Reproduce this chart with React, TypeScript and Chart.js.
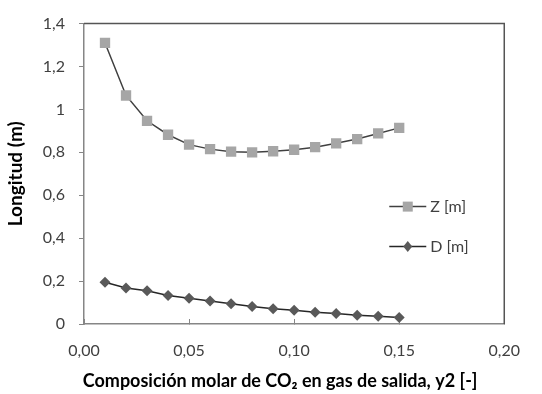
import React, { useEffect, useRef } from "react";
import { Chart, registerables } from "chart.js";

Chart.register(...registerables);

const xValues = [0.01, 0.02, 0.03, 0.04, 0.05, 0.06, 0.07, 0.08, 0.09, 0.10, 0.11, 0.12, 0.13, 0.14, 0.15];
const zValues = [1.31, 1.065, 0.947, 0.882, 0.836, 0.815, 0.803, 0.8, 0.805, 0.812, 0.824, 0.842, 0.862, 0.888, 0.914];
const dValues = [0.195, 0.168, 0.155, 0.133, 0.12, 0.107, 0.094, 0.082, 0.071, 0.064, 0.055, 0.049, 0.041, 0.036, 0.03];
const xTickValues = [0, 0.05, 0.1, 0.15, 0.2];
const seriesNames = ["Z [m]", "D [m]"];
const xTitle = "Composición molar de CO₂ en gas de salida, y2 [-]";
const yTitle = "Longitud (m)";

const FONT = "Lato, 'Open Sans', sans-serif";

const decorPlugin = {
  id: "decor",
  afterDraw(chart: any) {
    const ctx = chart.ctx;
    const area = chart.chartArea;
    ctx.save();
    ctx.strokeStyle = "#555555";
    ctx.lineWidth = 1.5;
    ctx.beginPath();
    ctx.moveTo(area.left, area.top);
    ctx.lineTo(area.right, area.top);
    ctx.lineTo(area.right, area.bottom);
    ctx.stroke();
    ctx.restore();

    // x axis title (slightly left of the plot centre, as in the original)
    ctx.save();
    ctx.fillStyle = "#000000";
    ctx.font = `bold 18px ${FONT}`;
    ctx.textAlign = "center";
    ctx.textBaseline = "middle";
    ctx.fillText(xTitle, (area.left + area.right) / 2 - 14, chart.height - 13);
    ctx.restore();

    const lx0 = area.right - 115;
    const lx1 = area.right - 78;
    const tx = area.right - 74;
    const rows = [area.top + 183, area.top + 223];
    chart.data.datasets.forEach((ds: any, i: number) => {
      const y = rows[i];
      ctx.save();
      ctx.strokeStyle = ds.borderColor;
      ctx.lineWidth = 1.5;
      ctx.beginPath();
      ctx.moveTo(lx0, y);
      ctx.lineTo(lx1, y);
      ctx.stroke();
      const mx = (lx0 + lx1) / 2;
      ctx.fillStyle = ds.pointBackgroundColor;
      ctx.beginPath();
      if (ds.pointStyle === "rect") {
        ctx.rect(mx - 5, y - 5, 10, 10);
      } else {
        ctx.moveTo(mx, y - 5.5);
        ctx.lineTo(mx + 4.5, y);
        ctx.lineTo(mx, y + 5.5);
        ctx.lineTo(mx - 4.5, y);
        ctx.closePath();
      }
      ctx.fill();
      ctx.fillStyle = "#404040";
      ctx.font = `16px ${FONT}`;
      ctx.textBaseline = "middle";
      ctx.textAlign = "left";
      ctx.fillText(ds.label, tx, y);
      ctx.restore();
    });
  },
};

export default function App() {
  const ref = useRef<HTMLCanvasElement | null>(null);
  useEffect(() => {
    document.body.style.margin = "0";
    const canvas = ref.current;
    if (!canvas) return;
    const chart = new Chart(canvas, {
      type: "line",
      data: {
        datasets: [
          {
            label: seriesNames[0],
            data: xValues.map((x, i) => ({ x, y: zValues[i] })),
            borderColor: "#404040",
            borderWidth: 1.5,
            pointStyle: "rect",
            pointRadius: 7.3,
            pointBackgroundColor: "#A6A6A6",
            pointBorderColor: "#A6A6A6",
            pointBorderWidth: 0,
            tension: 0,
          },
          {
            label: seriesNames[1],
            data: xValues.map((x, i) => ({ x, y: dValues[i] })),
            borderColor: "#262626",
            borderWidth: 1.5,
            pointStyle: "rectRot",
            pointRadius: 5.5,
            pointBackgroundColor: "#595959",
            pointBorderColor: "#595959",
            pointBorderWidth: 0,
            tension: 0,
          },
        ],
      },
      options: {
        animation: false,
        responsive: false,
        layout: { padding: { top: 19, right: 19, left: 0, bottom: 0 } },
        plugins: { legend: { display: false }, tooltip: { enabled: false } },
        scales: {
          x: {
            type: "linear",
            min: 0,
            max: 0.2,
            afterFit: (s: any) => {
              s.height = 70;
            },
            afterBuildTicks: (s: any) => {
              s.ticks = xTickValues.map((v) => ({ value: v }));
            },
            ticks: {
              padding: 22,
              color: "#404040",
              font: { family: FONT, size: 16 },
              maxRotation: 0,
              callback: (v: any) => Number(v).toFixed(2).replace(".", ","),
            },
            grid: { drawOnChartArea: false, tickLength: -5, color: "#868686" },
            border: { color: "#868686", width: 1.5 },
            title: { display: false, text: xTitle },
          },
          y: {
            min: 0,
            max: 1.4,
            afterFit: (s: any) => {
              s.width = 84;
            },
            ticks: {
              stepSize: 0.2,
              padding: 14,
              color: "#404040",
              font: { family: FONT, size: 16 },
              callback: (v: any) => String(Math.round(Number(v) * 10) / 10).replace(".", ","),
            },
            grid: { drawOnChartArea: false, tickLength: 5, color: "#868686" },
            border: { color: "#868686", width: 1.5 },
            title: {
              display: true,
              text: yTitle,
              color: "#000000",
              font: { family: FONT, size: 19, weight: "bold" },
              padding: { top: 4, bottom: 0 },
            },
          },
        },
      },
      plugins: [decorPlugin],
    });
    return () => chart.destroy();
  }, []);
  return <canvas ref={ref} width={542} height={394} style={{ display: "block" }} />;
}
